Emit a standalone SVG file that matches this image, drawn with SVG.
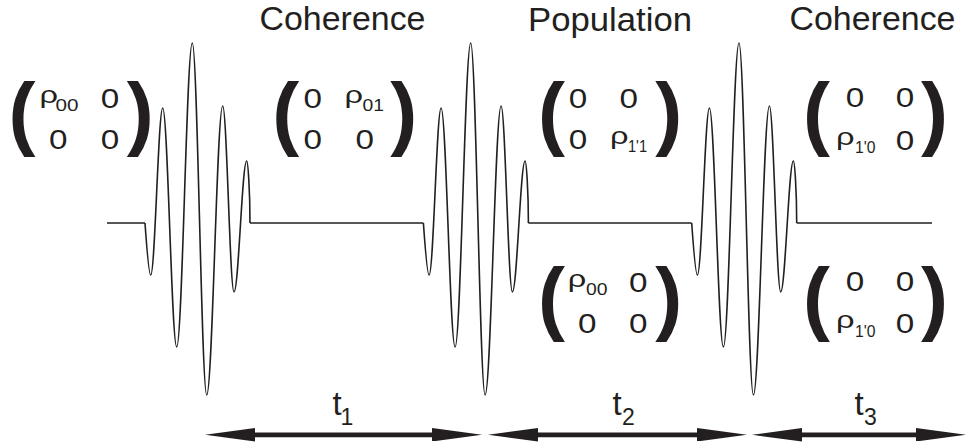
<svg xmlns="http://www.w3.org/2000/svg" xmlns:xlink="http://www.w3.org/1999/xlink" width="970" height="444" viewBox="0 0 970 444">
<style>
text{font-family:"Liberation Sans",Arial,sans-serif;fill:#231f20}
.ti{font-size:33px}
.m{font-size:27px}
.r{font-size:24px}
.s{font-size:16px}
.p{font-size:81px;font-weight:bold;text-anchor:middle}
.tl{font-size:33px}
.ts{font-size:23px}
.wave{fill:none;stroke:#231f20;stroke-width:1.6;stroke-linejoin:round}
.arr{stroke:#231f20;stroke-width:4.7;fill:none}
</style>
<defs>
<marker id="ah" viewBox="0 0 50 13.4" markerWidth="50" markerHeight="13.4" refX="0" refY="6.7" orient="auto-start-reverse" markerUnits="userSpaceOnUse">
<path d="M0,0 L50,6.7 L0,13.4 Z" fill="#231f20"/>
</marker>
<path id="pulse" d="M-47.3,223 C-45.3,251.6 -43.3,275 -41.6,275 C-37.23,275 -33.97,108 -29.6,108 C-24.5,108 -20.7,347 -15.6,347 C-9.92,347 -5.68,43 0,43 C5.24,43 9.16,395 14.4,395 C20.23,395 24.57,106 30.4,106 C34.52,106 37.58,292 41.7,292 C46.33,292 49.77,161 54.4,161 C55.6,161 57.7,190 57.7,223"/>
</defs>

<g id="waveform" class="wave">
<path d="M107,223 H145 M250,223 H423.4 M528.4,223 H691.7 M796.7,223 H932"/>
<use xlink:href="#pulse" href="#pulse" transform="translate(192.3,0)"/>
<use xlink:href="#pulse" href="#pulse" transform="translate(470.7,0)"/>
<use xlink:href="#pulse" href="#pulse" transform="translate(739,0)"/>
</g>

<g id="titles">
<text class="ti" x="259.5" y="30" textLength="166" lengthAdjust="spacingAndGlyphs">Coherence</text>
<text class="ti" x="528" y="31" textLength="164" lengthAdjust="spacingAndGlyphs">Population</text>
<text class="ti" x="789.5" y="30" textLength="166" lengthAdjust="spacingAndGlyphs">Coherence</text>
</g>

<g id="matrix1">
<text class="p" x="22" y="140.3">(</text>
<text class="p" x="140.3" y="140.3">)</text>
<text class="r" x="39.5" y="102.5" textLength="18.5" lengthAdjust="spacingAndGlyphs">ρ</text>
<text class="s" x="55.5" y="111" textLength="23" lengthAdjust="spacingAndGlyphs">00</text>
<text class="m" x="100.75" y="107.5" textLength="18.5" lengthAdjust="spacingAndGlyphs">0</text>
<text class="m" x="49.05" y="149" textLength="18.5" lengthAdjust="spacingAndGlyphs">0</text>
<text class="m" x="100.75" y="149" textLength="18.5" lengthAdjust="spacingAndGlyphs">0</text>
</g>

<g id="matrix2">
<text class="p" x="285.7" y="140.3">(</text>
<text class="p" x="403.8" y="140.3">)</text>
<text class="m" x="303.55" y="107.5" textLength="18.5" lengthAdjust="spacingAndGlyphs">0</text>
<text class="r" x="344.5" y="102.5" textLength="18.5" lengthAdjust="spacingAndGlyphs">ρ</text>
<text class="s" x="362.5" y="111" textLength="21.5" lengthAdjust="spacingAndGlyphs">01</text>
<text class="m" x="303.55" y="149" textLength="18.5" lengthAdjust="spacingAndGlyphs">0</text>
<text class="m" x="355.45" y="149" textLength="18.5" lengthAdjust="spacingAndGlyphs">0</text>
</g>

<g id="matrix3">
<text class="p" x="551.5" y="140.3">(</text>
<text class="p" x="668.8" y="140.3">)</text>
<text class="m" x="568.75" y="107.5" textLength="18.5" lengthAdjust="spacingAndGlyphs">0</text>
<text class="m" x="619.45" y="107.5" textLength="18.5" lengthAdjust="spacingAndGlyphs">0</text>
<text class="m" x="568.75" y="149" textLength="18.5" lengthAdjust="spacingAndGlyphs">0</text>
<text class="r" x="610.1" y="144" textLength="18.5" lengthAdjust="spacingAndGlyphs">ρ</text>
<text class="s" x="628" y="152.3" textLength="19" lengthAdjust="spacingAndGlyphs">1'1</text>
</g>

<g id="matrix4">
<text class="p" x="551.5" y="324.5">(</text>
<text class="p" x="668.8" y="324.5">)</text>
<text class="r" x="567.8" y="286.5" textLength="18.5" lengthAdjust="spacingAndGlyphs">ρ</text>
<text class="s" x="586" y="295" textLength="21.5" lengthAdjust="spacingAndGlyphs">00</text>
<text class="m" x="629.05" y="291.5" textLength="18.5" lengthAdjust="spacingAndGlyphs">0</text>
<text class="m" x="577.95" y="333.3" textLength="18.5" lengthAdjust="spacingAndGlyphs">0</text>
<text class="m" x="629.05" y="333.3" textLength="18.5" lengthAdjust="spacingAndGlyphs">0</text>
</g>

<g id="matrix5">
<text class="p" x="816.5" y="140.3">(</text>
<text class="p" x="934.6" y="140.3">)</text>
<text class="m" x="845.75" y="107" textLength="18.5" lengthAdjust="spacingAndGlyphs">0</text>
<text class="m" x="895.75" y="107" textLength="18.5" lengthAdjust="spacingAndGlyphs">0</text>
<text class="r" x="836.1" y="145" textLength="18.5" lengthAdjust="spacingAndGlyphs">ρ</text>
<text class="s" x="855" y="153.3" textLength="20.5" lengthAdjust="spacingAndGlyphs">1'0</text>
<text class="m" x="895.75" y="150" textLength="18.5" lengthAdjust="spacingAndGlyphs">0</text>
</g>

<g id="matrix6">
<text class="p" x="816.5" y="324.5">(</text>
<text class="p" x="934.6" y="324.5">)</text>
<text class="m" x="845.75" y="290.5" textLength="18.5" lengthAdjust="spacingAndGlyphs">0</text>
<text class="m" x="895.75" y="290.5" textLength="18.5" lengthAdjust="spacingAndGlyphs">0</text>
<text class="r" x="836.1" y="328.3" textLength="18.5" lengthAdjust="spacingAndGlyphs">ρ</text>
<text class="s" x="855" y="336.6" textLength="20.5" lengthAdjust="spacingAndGlyphs">1'0</text>
<text class="m" x="895.75" y="333.3" textLength="18.5" lengthAdjust="spacingAndGlyphs">0</text>
</g>

<g id="connectors">
<line class="arr" x1="255" y1="434.8" x2="432" y2="434.8" marker-start="url(#ah)" marker-end="url(#ah)"/>
<line class="arr" x1="538" y1="434.8" x2="697" y2="434.8" marker-start="url(#ah)" marker-end="url(#ah)"/>
<line class="arr" x1="802" y1="434.8" x2="916" y2="434.8" marker-start="url(#ah)" marker-end="url(#ah)"/>
</g>

<g id="labels">
<text class="tl" x="332.5" y="415">t</text>
<text class="ts" x="340.5" y="425">1</text>
<text class="tl" x="612.5" y="415">t</text>
<text class="ts" x="622" y="425">2</text>
<text class="tl" x="854.5" y="415">t</text>
<text class="ts" x="864" y="425">3</text>
</g>
</svg>
